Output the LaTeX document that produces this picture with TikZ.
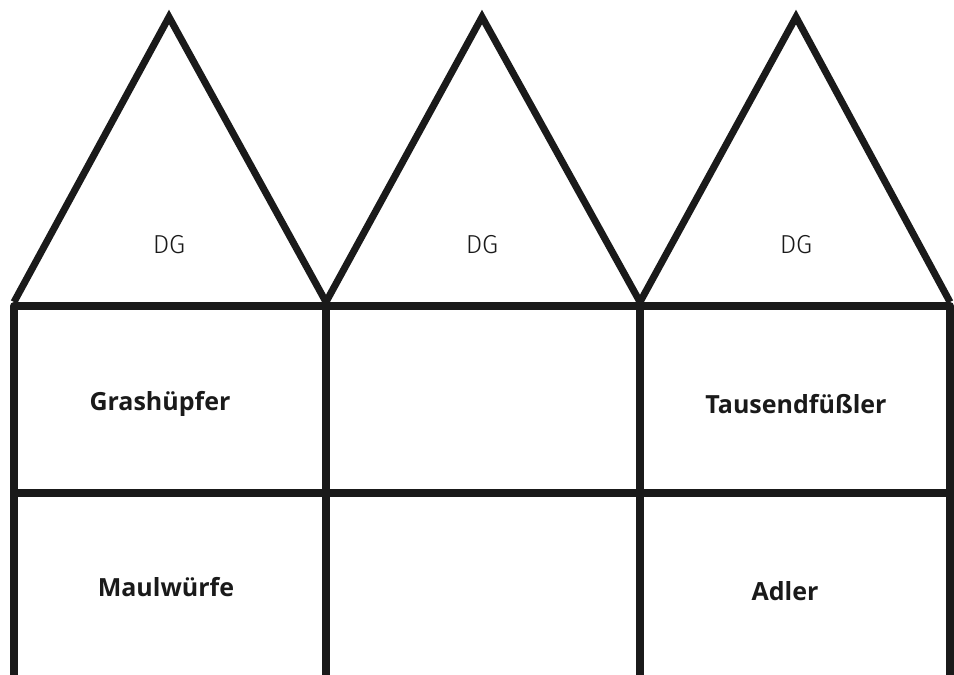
\documentclass[tikz,border=0pt]{standalone}
\usepackage{fontspec}
\setmainfont{Open Sans}
\newfontfamily\roofont{Fira Sans Light}
\begin{document}
\begin{tikzpicture}[x=1pt,y=-1pt,
  wall/.style={line width=8pt,draw=ink,line join=round},
  roof/.style={line width=7pt,draw=ink,line join=miter},
  rooflabel/.style={font=\roofont\fontsize{26}{30}\selectfont,text=ink},
  roomlabel/.style={font=\bfseries\fontsize{25}{30}\selectfont,text=ink}]
\definecolor{ink}{HTML}{1A1A1A}
\useasboundingbox (0,0) rectangle (954,675);

% column edges and floor levels
\coordinate (a0) at (14,306);  \coordinate (a1) at (326,306);
\coordinate (a2) at (640,306); \coordinate (a3) at (950,306);
\coordinate (b0) at (14,493);  \coordinate (b3) at (950,493);

% roofs
\draw[roof] (14,302) -- (169,17) -- (326,302);
\draw[roof] (326,302) -- (482,17) -- (640,302);
\draw[roof] (640,302) -- (796,17) -- (950,302);

% walls and ceilings
\draw[wall] (14,675) -- (a0) -- (a3) -- (950,675);
\draw[wall] (a1) -- (326,675);
\draw[wall] (a2) -- (640,675);
\draw[wall] (b0) -- (b3);

% labels
\node[rooflabel] (dg1) at (169,245) {DG};
\node[rooflabel] (dg2) at (482,245) {DG};
\node[rooflabel] (dg3) at (796,245) {DG};
\node[roomlabel] (r11) at (160,404) {Grashüpfer};
\node[roomlabel] (r13) at (796,404) {Tausendfüßler};
\node[roomlabel] (r21) at (166,587) {Maulwürfe};
\node[roomlabel] (r23) at (785,591) {Adler};
\end{tikzpicture}
\end{document}
